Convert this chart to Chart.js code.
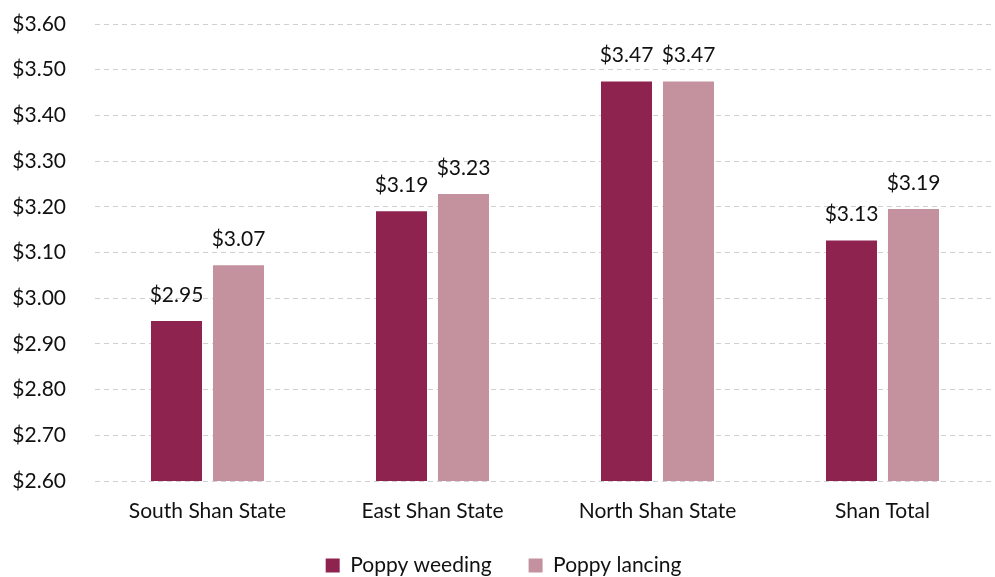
<!DOCTYPE html>
<html><head><meta charset="utf-8">
<script src="https://cdn.jsdelivr.net/npm/chart.js@4"></script>
<style>html,body{margin:0;padding:0;background:#fff}#wrap{width:995px;height:577px}</style>
</head><body><div id="wrap"><canvas id="c" width="995" height="577"></canvas></div>
<script>
const categories = ["South Shan State", "East Shan State", "North Shan State", "Shan Total"];
const seriesNames = ["Poppy weeding", "Poppy lancing"];
const weeding = [2.95, 3.19, 3.474, 3.126];
const lancing = [3.072, 3.228, 3.474, 3.195];
const labelsWeeding = ["$2.95", "$3.19", "$3.47", "$3.13"];
const labelsLancing = ["$3.07", "$3.23", "$3.47", "$3.19"];
const yMin = 2.6, yMax = 3.6, yStep = 0.1;

const FONT = "Lato, 'Open Sans', sans-serif";
const FS = 21;
const valueLabels = {
  id: 'valueLabels',
  afterDatasetsDraw(chart) {
    const ctx = chart.ctx;
    const texts = [labelsWeeding, labelsLancing];
    ctx.save();
    ctx.font = FS + "px " + FONT;
    ctx.fillStyle = "#111";
    ctx.textAlign = "center";
    ctx.textBaseline = "middle";
    chart.data.datasets.forEach((ds, i) => {
      chart.getDatasetMeta(i).data.forEach((el, j) => {
        ctx.fillText(texts[i][j], el.x, el.y - 26);
      });
    });
    ctx.restore();
  }
};

new Chart(document.getElementById('c'), {
  type: 'bar',
  data: {
    labels: categories,
    datasets: [
      { label: seriesNames[0], data: weeding, backgroundColor: '#8E2350' },
      { label: seriesNames[1], data: lancing, backgroundColor: '#C4929E' }
    ]
  },
  options: {
    responsive: false,
    animation: false,
    layout: { padding: { left: 12, right: 0, top: 0, bottom: -9 } },
    datasets: { bar: { categoryPercentage: 0.551, barPercentage: 0.823 } },
    plugins: {
      legend: {
        position: 'bottom',
        labels: { font: { family: FONT, size: FS }, color: '#111', boxWidth: 14, boxHeight: 14, padding: 37 }
      },
      tooltip: { enabled: false }
    },
    scales: {
      x: {
        afterFit(s) { s.height = 37; },
        grid: { display: false },
        border: { display: false },
        ticks: { font: { family: FONT, size: FS }, color: '#111', padding: 10 }
      },
      y: {
        min: yMin, max: yMax,
        afterFit(s) { s.width = 83; s.paddingTop = 24; s.paddingBottom = 0; },
        grid: { color: '#d0d0d0', lineWidth: 1, drawTicks: false },
        border: { display: false, dash: [5, 4] },
        ticks: {
          stepSize: yStep, padding: 29,
          font: { family: FONT, size: FS }, color: '#111',
          callback: v => '$' + Number(v).toFixed(2)
        }
      }
    }
  },
  plugins: [valueLabels]
});
</script></body></html>
